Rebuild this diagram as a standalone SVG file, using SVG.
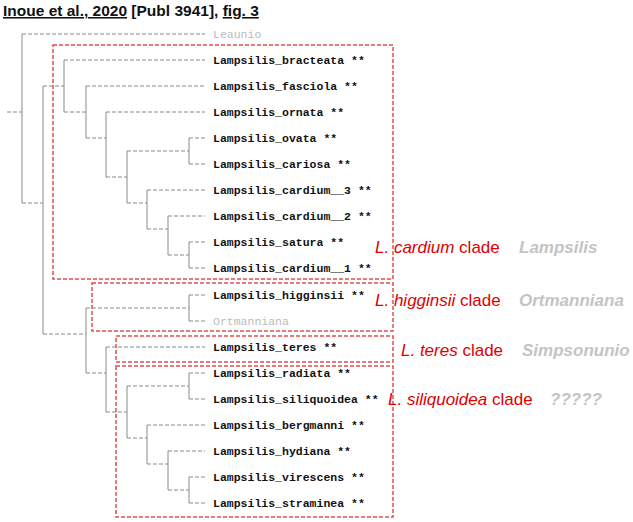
<svg xmlns="http://www.w3.org/2000/svg" width="633" height="522" viewBox="0 0 633 522">
<style>
.t{fill:none;stroke:#8a8a8a;stroke-width:1}
.h{stroke-dasharray:4 2}
.lf{font-family:"Liberation Mono",monospace;font-weight:bold;font-size:11.5px;fill:#111}
.gl{font-family:"Liberation Mono",monospace;font-size:11.5px;fill:#bbb}
.box{fill:none;stroke:#e05050;stroke-width:1.5;stroke-dasharray:4 2}
.cl{font-family:"Liberation Sans",Arial,sans-serif;font-size:17px;fill:#e00000}
.gn{font-family:"Liberation Sans",Arial,sans-serif;font-size:17px;font-weight:bold;font-style:italic;fill:#c4c4c4}
</style>
<rect width="633" height="522" fill="#fff"/>
<text x="3" y="16" font-family="Liberation Sans,Arial,sans-serif" font-weight="bold" font-size="15.5" fill="#111"><tspan text-decoration="underline">Inoue et al., 2020</tspan> [Publ 3941], <tspan text-decoration="underline">fig. 3</tspan></text>
<g id="connectors">
<path class="t h" d="M7,112H22M22,34H205M22,203H43M43,86H64M64,60H205M64,112H86M86,86H205M86,138H106M106,112H205M106,177H127M127,151H189M189,138H205M189,164H205M127,203H147M147,190H205M147,229H168M168,216H205M168,255H189M189,242H205M189,268H205M43,334H86M86,308H189M189,295H205M189,321H205M86,373H106M106,347H205M106,412H127M127,386H189M189,373H205M189,399H205M127,438H147M147,425H205M147,464H168M168,451H205M168,490H189M189,477H205M189,503H205"/>
<path class="t" stroke="#aaa" d="M22,34V203M43,86V334M64,60V112M86,86V138M106,112V177M127,151V203M189,138V164M147,190V229M168,216V255M189,242V268M86,308V373M189,295V321M106,347V412M127,386V438M189,373V399M147,425V464M168,451V490M189,477V503"/>
</g>
<g id="nodes">
<g id="leaunio"><text class="gl" x="213" y="38">Leaunio</text></g>
<g id="bracteata"><text class="lf" x="213" y="64">Lampsilis_bracteata **</text></g>
<g id="fasciola"><text class="lf" x="213" y="90">Lampsilis_fasciola **</text></g>
<g id="ornata"><text class="lf" x="213" y="116">Lampsilis_ornata **</text></g>
<g id="ovata"><text class="lf" x="213" y="142">Lampsilis_ovata **</text></g>
<g id="cariosa"><text class="lf" x="213" y="168">Lampsilis_cariosa **</text></g>
<g id="cardium3"><text class="lf" x="213" y="194">Lampsilis_cardium__3 **</text></g>
<g id="cardium2"><text class="lf" x="213" y="220">Lampsilis_cardium__2 **</text></g>
<g id="satura"><text class="lf" x="213" y="246">Lampsilis_satura **</text></g>
<g id="cardium1"><text class="lf" x="213" y="272">Lampsilis_cardium__1 **</text></g>
<g id="higginsii"><text class="lf" x="213" y="299">Lampsilis_higginsii **</text></g>
<g id="ortmanniana"><text class="gl" x="213" y="325">Ortmanniana</text></g>
<g id="teres"><text class="lf" x="213" y="351">Lampsilis_teres **</text></g>
<g id="radiata"><text class="lf" x="213" y="377">Lampsilis_radiata **</text></g>
<g id="siliquoidea"><text class="lf" x="213" y="403">Lampsilis_siliquoidea **</text></g>
<g id="bergmanni"><text class="lf" x="213" y="429">Lampsilis_bergmanni **</text></g>
<g id="hydiana"><text class="lf" x="213" y="455">Lampsilis_hydiana **</text></g>
<g id="virescens"><text class="lf" x="213" y="481">Lampsilis_virescens **</text></g>
<g id="straminea"><text class="lf" x="213" y="507">Lampsilis_straminea **</text></g>
<g id="cardium-clade"><rect class="box" x="53" y="45" width="340" height="234"/>
<text class="cl" x="375" y="253"><tspan font-style="italic">L. cardium</tspan> clade</text><text class="gn" x="519" y="253">Lampsilis</text></g>
<g id="higginsii-clade"><rect class="box" x="92" y="283" width="301" height="48"/>
<text class="cl" x="375" y="306"><tspan font-style="italic">L. higginsii</tspan> clade</text><text class="gn" x="519" y="306">Ortmanniana</text></g>
<g id="teres-clade"><rect class="box" x="116" y="336" width="277" height="26"/>
<text class="cl" x="401" y="356"><tspan font-style="italic">L. teres</tspan> clade</text><text class="gn" x="522" y="356">Simpsonunio</text></g>
<g id="siliquoidea-clade"><rect class="box" x="116" y="366" width="277" height="151"/>
<text class="cl" x="388" y="405"><tspan font-style="italic">L. siliquoidea</tspan> clade</text><text class="gn" x="550" y="405">?????</text></g>
</g>
</svg>
